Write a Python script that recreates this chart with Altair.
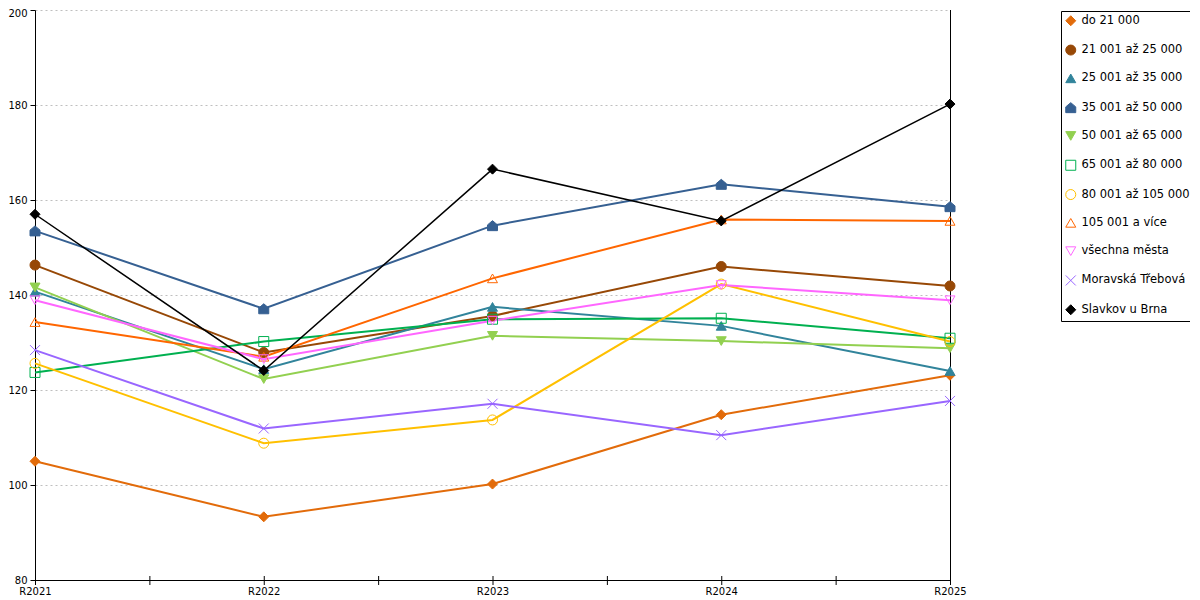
import altair as alt
import pandas as pd

years = ["R2021", "R2022", "R2023", "R2024", "R2025"]
series = ["do 21 000", "21 001 až 25 000", "25 001 až 35 000", "35 001 až 50 000",
          "50 001 až 65 000", "65 001 až 80 000", "80 001 až 105 000", "105 001 a více",
          "všechna města", "Moravská Třebová", "Slavkov u Brna"]

v_do21 = [105.0, 93.3, 100.2, 114.8, 123.1]
v_21_25 = [146.3, 127.9, 135.6, 146.0, 141.9]
v_25_35 = [140.7, 124.4, 137.5, 133.5, 124.0]
v_35_50 = [153.5, 137.1, 154.6, 163.3, 158.6]
v_50_65 = [141.6, 122.3, 131.4, 130.3, 128.8]
v_65_80 = [123.7, 130.2, 134.9, 135.1, 130.9]
v_80_105 = [125.6, 108.8, 113.7, 142.3, 130.2]
v_105 = [134.3, 127.0, 143.5, 155.9, 155.6]
v_all = [138.9, 126.5, 134.6, 142.1, 138.9]
v_mt = [128.4, 111.9, 117.1, 110.5, 117.7]
v_slavkov = [157.0, 124.1, 166.5, 155.6, 180.2]

values = [v_do21, v_21_25, v_25_35, v_35_50, v_50_65, v_65_80, v_80_105, v_105, v_all, v_mt, v_slavkov]

colors = ["#E26B0A", "#974806", "#31849B", "#366092", "#92D050", "#00B050",
          "#FFC000", "#FF6600", "#FF66FF", "#9966FF", "#000000"]
fills = ["#E26B0A", "#974806", "#31849B", "#366092", "#92D050", "transparent",
         "transparent", "transparent", "transparent", "transparent", "#000000"]
house = "M-1,1L-1,-0.15L0,-1L1,-0.15L1,1Z"
xmark = "M-1,-1L1,1M-1,1L1,-1"
shapes = ["diamond", "circle", "triangle-up", house, "triangle-down", "square",
          "circle", "triangle-up", "triangle-down", xmark, "diamond"]

y_ticks = [80, 100, 120, 140, 160, 180, 200]
x_ticks = [0, 0.5, 1, 1.5, 2, 2.5, 3, 3.5, 4]

rows = []
for s, vals in zip(series, values):
    for i, v in enumerate(vals):
        rows.append({"series": s, "i": i, "year": years[i], "value": v})
df = pd.DataFrame(rows)

W, H = 915, 570
FONT = "DejaVu Sans"
label_expr = "[" + ",".join("'" + y + "'" for y in years) + "][datum.value]"

xscale = alt.Scale(domain=[0, len(years) - 1], nice=False, zero=False)
yscale = alt.Scale(domain=[y_ticks[0], y_ticks[-1]], nice=False, zero=False)

legend = alt.Legend(
    title=None, orient="none", legendX=1026, legendY=1,
    strokeColor="black", fillColor="white", padding=4,
    labelFont=FONT, labelFontSize=11.5, labelColor="black", labelOffset=5,
    symbolSize=100, symbolStrokeWidth=1, rowPadding=14.3, labelLimit=200,
)

lines = alt.Chart(df).mark_line().encode(
    x=alt.X("i:Q", scale=xscale, title=None,
            axis=alt.Axis(values=list(range(len(years))), labelExpr=label_expr, ticks=False,
                          grid=False, domainColor="black", labelFont=FONT, labelFontSize=10,
                          labelColor="black", labelPadding=6, labelOverlap=False,
                          labelFlush=False, labelBound=False)),
    y=alt.Y("value:Q", scale=yscale, title=None,
            axis=alt.Axis(values=y_ticks, tickSize=5, tickColor="black", domainColor="black",
                          labelFont=FONT, labelFontSize=10, labelColor="black", labelPadding=3,
                          labelOffset={"condition": {"test": "datum.value == %d" % y_ticks[-1], "value": 3}, "value": 0},
                          grid=True, gridDash=[2, 3], gridColor="#BFBFBF")),
    # reversed domain keeps this (legend-less) scale separate from the point legend
    color=alt.Color("series:N", scale=alt.Scale(domain=series[::-1], range=colors[::-1]), legend=None),
    strokeWidth=alt.condition(alt.datum.series == "Slavkov u Brna", alt.value(1.5), alt.value(2)),
)

points = alt.Chart(df).mark_point(size=100, strokeWidth=1, opacity=1).encode(
    x=alt.X("i:Q", scale=xscale),
    y=alt.Y("value:Q", scale=yscale),
    shape=alt.Shape("series:N", scale=alt.Scale(domain=series, range=shapes), legend=legend),
    stroke=alt.Stroke("series:N", scale=alt.Scale(domain=series, range=colors), legend=legend),
    fill=alt.Fill("series:N", scale=alt.Scale(domain=series, range=fills), legend=legend),
)

tick_df = pd.DataFrame({"t": x_ticks})
ticks = alt.Chart(tick_df).mark_rule(color="black", strokeWidth=1, xOffset=0.5).encode(
    x=alt.X("t:Q", scale=xscale),
    y=alt.value(H - 4),
    y2=alt.value(H + 5),
)

border = alt.Chart(pd.DataFrame({"a": [0]})).mark_rule(color="black", strokeWidth=1).encode(
    x=alt.value(W + 0.5), y=alt.value(0), y2=alt.value(H)
)

chart = alt.layer(border, ticks, lines, points).properties(
    width=W, height=H,
    padding={"left": 27, "top": 2, "right": 240, "bottom": 20},
    autosize=alt.AutoSizeParams(type="none"),
).configure_view(stroke=None)

chart.save("out.html", embed_options={"renderer": "svg", "actions": False})
